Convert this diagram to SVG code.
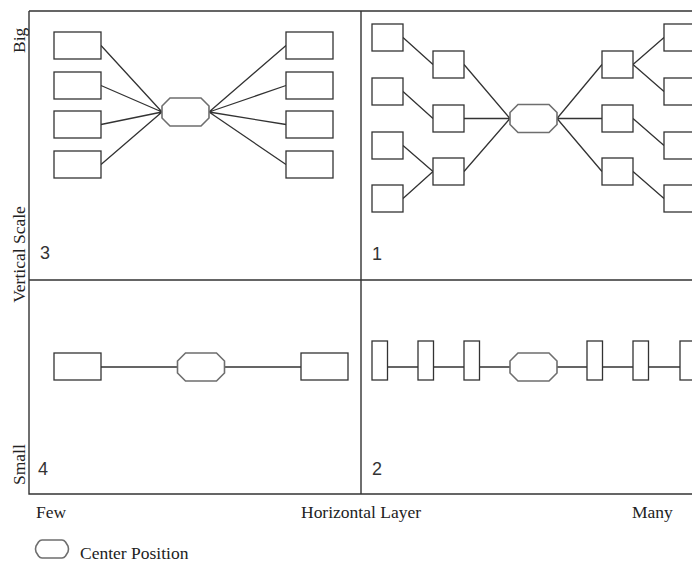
<svg xmlns="http://www.w3.org/2000/svg" xmlns:xlink="http://www.w3.org/1999/xlink" width="692" height="563" viewBox="0 0 692 563">
<style>
.frame{stroke:#333;stroke-width:1.4;fill:none}
.box{fill:#fff;stroke:#333;stroke-width:1.3}
.oct{fill:#fff;stroke:#6e6e6e;stroke-width:1.6}
.edge{stroke:#333;stroke-width:1.3;fill:none}
.lbl{font-family:"Liberation Serif","Times New Roman",serif;font-size:17.5px;fill:#222}
.num{font-family:"Liberation Sans",Arial,sans-serif;font-size:18px;fill:#333}
</style>
<defs>
<polygon id="octShape" class="oct" points="8,0 39,0 47,8 47,20 39,28 8,28 0,20 0,8"/>
</defs>
<rect width="692" height="563" fill="#fff"/>
<g id="frame">
<path class="frame" d="M29,11 H692 M29,11 V494 H692 M29,280 H692 M361,11 V494"/>
</g>
<g id="connectors">
<path class="edge" d="M101,45.5 L162,112 M101,85.5 L162,112 M101,124.5 L162,112 M101,164.5 L162,112"/>
<path class="edge" d="M209,112 L286,45.5 M209,112 L286,85.5 M209,112 L286,124.5 M209,112 L286,164.5"/>
<path class="edge" d="M403,37.5 L433,64.5 M403,91.5 L433,118.5 M403,145.5 L433,171.5 M403,198.5 L433,171.5"/>
<path class="edge" d="M464,64.5 L510,118.5 M464,118.5 L510,118.5 M464,171.5 L510,118.5"/>
<path class="edge" d="M557,118.5 L602,64.5 M557,118.5 L602,118.5 M557,118.5 L602,171.5"/>
<path class="edge" d="M633,64.5 L664,37.5 M633,64.5 L664,91.5 M633,118.5 L664,145.5 M633,171.5 L664,198.5"/>
<path class="edge" d="M101,367 H178 M224,367 H301"/>
<path class="edge" d="M387,367 H418 M433,367 H464 M480,367 H510 M557,367 H587 M603,367 H633 M649,367 H680"/>
</g>
<g id="q3">
<rect class="box" x="54" y="32" width="47" height="27"/>
<rect class="box" x="54" y="72" width="47" height="27"/>
<rect class="box" x="54" y="111" width="47" height="27"/>
<rect class="box" x="54" y="151" width="47" height="27"/>
<rect class="box" x="286" y="32" width="47" height="27"/>
<rect class="box" x="286" y="72" width="47" height="27"/>
<rect class="box" x="286" y="111" width="47" height="27"/>
<rect class="box" x="286" y="151" width="47" height="27"/>
<use xlink:href="#octShape" href="#octShape" x="162" y="98"/>
<text class="num" x="40" y="259">3</text>
</g>
<g id="q1">
<rect class="box" x="372" y="24" width="31" height="27"/>
<rect class="box" x="372" y="78" width="31" height="27"/>
<rect class="box" x="372" y="132" width="31" height="27"/>
<rect class="box" x="372" y="185" width="31" height="27"/>
<rect class="box" x="433" y="51" width="31" height="27"/>
<rect class="box" x="433" y="105" width="31" height="27"/>
<rect class="box" x="433" y="158" width="31" height="27"/>
<use xlink:href="#octShape" href="#octShape" x="510" y="104.5"/>
<rect class="box" x="602" y="51" width="31" height="27"/>
<rect class="box" x="602" y="105" width="31" height="27"/>
<rect class="box" x="602" y="158" width="31" height="27"/>
<rect class="box" x="664" y="24" width="31" height="27"/>
<rect class="box" x="664" y="78" width="31" height="27"/>
<rect class="box" x="664" y="132" width="31" height="27"/>
<rect class="box" x="664" y="185" width="31" height="27"/>
<text class="num" x="372" y="260">1</text>
</g>
<g id="q4">
<rect class="box" x="54" y="353" width="47" height="27"/>
<use xlink:href="#octShape" href="#octShape" x="177.5" y="353"/>
<rect class="box" x="301" y="353" width="47" height="27"/>
<text class="num" x="38" y="475">4</text>
</g>
<g id="q2">
<rect class="box" x="372" y="341" width="15.5" height="39"/>
<rect class="box" x="418" y="341" width="15.5" height="39"/>
<rect class="box" x="464" y="341" width="15.5" height="39"/>
<use xlink:href="#octShape" href="#octShape" x="510" y="353"/>
<rect class="box" x="587" y="341" width="15.5" height="39"/>
<rect class="box" x="633" y="341" width="15.5" height="39"/>
<rect class="box" x="680" y="341" width="15.5" height="39"/>
<text class="num" x="372" y="475">2</text>
</g>
<g id="axes">
<text class="lbl" transform="rotate(-90 25 53)" x="25" y="53">Big</text>
<text class="lbl" transform="rotate(-90 25 254.5)" x="25" y="254.5" text-anchor="middle">Vertical Scale</text>
<text class="lbl" transform="rotate(-90 25 485)" x="25" y="485">Small</text>
<text class="lbl" x="36" y="518">Few</text>
<text class="lbl" x="301" y="518" textLength="120" lengthAdjust="spacing">Horizontal Layer</text>
<text class="lbl" x="632" y="518">Many</text>
</g>
<g id="legend">
<path class="oct" d="M42,540 H62 Q64,540 65.5,542 L68,546 Q69,549 68,552 L65.5,556 Q64,558 62,558 H42 Q40,558 38.5,556 L36,552 Q35,549 36,546 L38.5,542 Q40,540 42,540 Z"/>
<text class="lbl" x="80" y="559">Center Position</text>
</g>
</svg>
